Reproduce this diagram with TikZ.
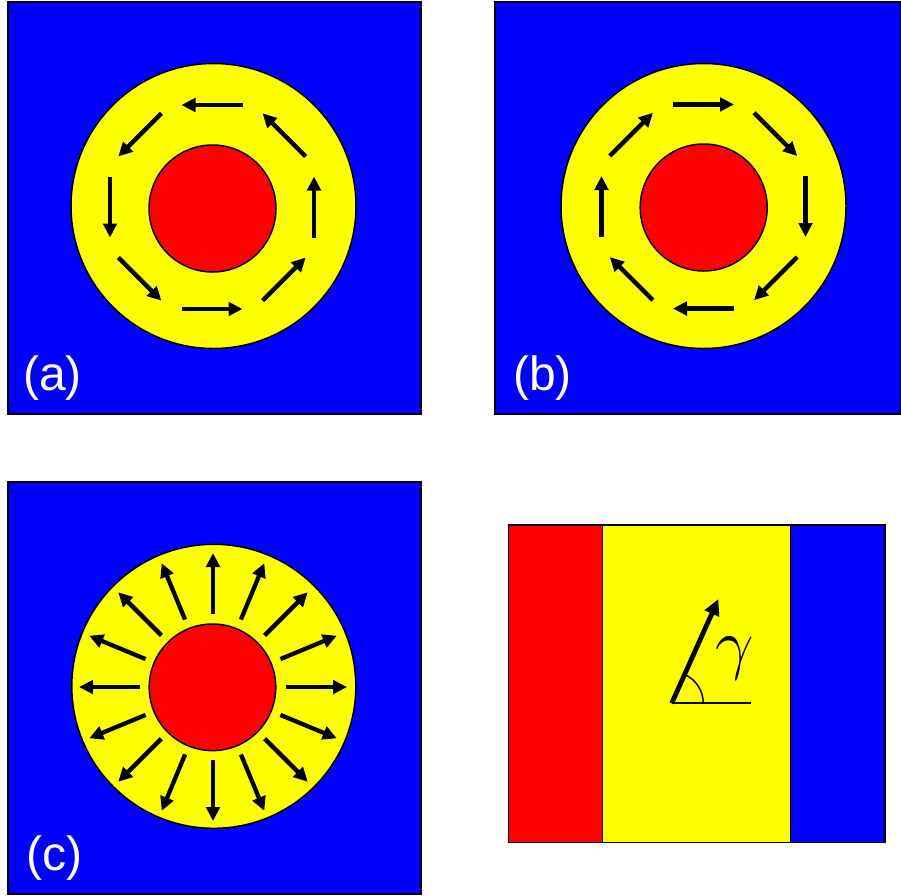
\documentclass[tikz,border=0pt]{standalone}
\usepackage{fontspec}
\setmainfont{Liberation Sans}
\usetikzlibrary{arrows.meta,calc}
\definecolor{pblue}{RGB}{0,0,255}
\definecolor{pyellow}{RGB}{255,255,0}
\definecolor{pred}{RGB}{255,0,0}
\begin{document}
\begin{tikzpicture}[x=1pt,y=1pt,
  panel/.style={fill=pblue,draw=black,line width=1.5pt},
  ring/.style={fill=pyellow,draw=black,line width=1.5pt},
  core/.style={fill=pred,draw=black,line width=1.5pt},
  spin/.style={line width=4.3pt,-{Triangle[length=14pt,width=13.5pt]}},
  lab/.style={text=white,font=\fontsize{48}{48}\selectfont,inner sep=0pt,anchor=base west}]
\useasboundingbox (0,0) rectangle (901,-895);
% ---------- (a)
\draw[panel] (8,-2) rectangle (421,-414);
\draw[ring] (213.5,-206) circle (142.5);
\draw[core] (212.5,-208.5) circle (63.5);
\coordinate (ca) at (212,-207);
\foreach \t in {0,45,...,315}
  \draw[spin] ($(ca)+(\t:102)+(\t-90:30.5)$) -- ($(ca)+(\t:102)+(\t+90:30.5)$);
\node[lab] (la) at (23,-390) {(a)};
% ---------- (b)
\draw[panel] (495,-2) rectangle (901,-414);
\draw[ring] (703.5,-206) circle (142.5);
\draw[core] (703.7,-207.5) circle (63.5);
\coordinate (cb) at (703.5,-206.5);
\foreach \t in {0,45,...,315}
  \draw[spin] ($(cb)+(\t:102)+(\t+90:30.5)$) -- ($(cb)+(\t:102)+(\t-90:30.5)$);
\node[lab] (lb) at (513,-390) {(b)};
% ---------- (c)
\draw[panel] (8,-482) rectangle (421,-894);
\draw[ring] (213.8,-686.3) circle (142);
\draw[core] (212.5,-687.3) circle (63.3);
\coordinate (cc) at (213,-687);
\foreach \t in {0,22.5,...,337.5}
  \draw[spin] ($(cc)+(\t:73)$) -- ($(cc)+(\t:134)$);
\node[lab] (lc) at (26,-870) {(c)};
% ---------- (d)
\fill[pred] (508.3,-525) rectangle (602.7,-842.3);
\fill[pyellow] (602.7,-525) rectangle (790.7,-842.3);
\fill[pblue] (790.7,-525) rectangle (885,-842.3);
\draw[line width=1.5pt] (602.7,-525) -- (602.7,-842.3);
\draw[line width=1.5pt] (790.7,-525) -- (790.7,-842.3);
\draw[line width=1.5pt] (508.3,-525) rectangle (885,-842.3);
\coordinate (o) at (671.7,-703.3);
\coordinate (h) at (751,-703.3);
\draw[line width=2pt] (o) -- (h);
\draw[line width=4.8pt,-{Triangle[length=16pt,width=15pt]}] (o) -- ++(65.9:114.3) coordinate (tip);
\draw[line width=1.5pt] ($(o)+(0:31.6)$) arc (0:65.9:31.6);
\node[inner sep=0pt,anchor=north west,scale=2.75,font=\Huge] (g) at (715,-636) {$\gamma$};
\end{tikzpicture}
\end{document}
